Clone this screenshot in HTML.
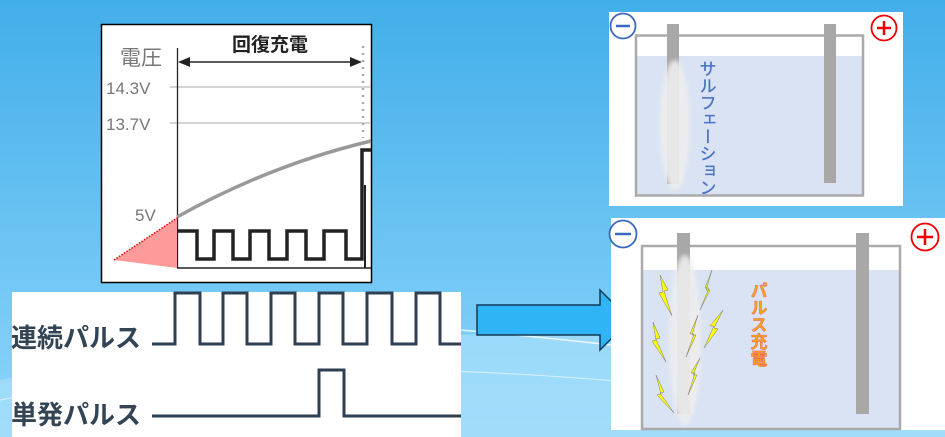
<!DOCTYPE html>
<html><head><meta charset="utf-8"><style>
html,body{margin:0;padding:0;width:945px;height:437px;overflow:hidden}
svg{display:block}
text{font-family:"Liberation Sans","Noto Sans CJK JP",sans-serif}
</style></head><body>
<svg width="945" height="437" viewBox="0 0 945 437" xmlns="http://www.w3.org/2000/svg">
<defs>
<linearGradient id="bg" x1="0" y1="0" x2="0" y2="1">
<stop offset="0" stop-color="#42aee9"/><stop offset="1" stop-color="#8ed6fb"/></linearGradient>
<filter id="blur"><feGaussianBlur stdDeviation="2"/></filter>
</defs>
<rect width="945" height="437" fill="url(#bg)"/>
<path d="M0 380 Q400 300 945 360 L945 437 L0 437Z" fill="#a8e0fb" opacity="0.7"/>
<path d="M460 330 Q700 350 945 395" stroke="#fff" stroke-width="1.5" fill="none" opacity="0.8"/>
<path d="M0 400 Q350 330 945 420" stroke="#fff" stroke-width="1" fill="none" opacity="0.6"/>

<!-- chart -->
<rect x="101.5" y="24.5" width="270" height="258" fill="#fff" stroke="#000" stroke-width="1.5"/>
<text x="270" y="51" font-size="19" font-weight="bold" text-anchor="middle" fill="#222">回復充電</text>
<text x="120" y="65" font-size="21" fill="#777">電圧</text>
<text x="106" y="94" font-size="17" fill="#777">14.3V</text>
<text x="106" y="130" font-size="17" fill="#777">13.7V</text>
<text x="135" y="221" font-size="17" fill="#777">5V</text>
<line x1="170" y1="87" x2="371" y2="87" stroke="#bbb" stroke-width="1.2"/>
<line x1="170" y1="123" x2="371" y2="123" stroke="#bbb" stroke-width="1.2"/>
<line x1="177.5" y1="48" x2="177.5" y2="268" stroke="#222" stroke-width="1.3"/>
<line x1="184" y1="62" x2="356" y2="62" stroke="#222" stroke-width="1.5"/>
<path d="M178 62 L190 57 L190 67Z M362 62 L350 57 L350 67Z" fill="#222"/>
<line x1="363" y1="46" x2="363" y2="138" stroke="#aaa" stroke-width="2.5" stroke-dasharray="2,5"/>
<path d="M177 217 Q270 165 371 141" stroke="#999" stroke-width="3.5" fill="none"/>
<polygon points="114,260 177,218 177,268" fill="#ff9a9a"/>
<line x1="114" y1="260" x2="177" y2="218" stroke="#e00" stroke-width="1.5" stroke-dasharray="1.5,1.5"/>
<path d="M177 231 H197 V259 H214 V231 H233 V259 H250 V231 H269 V259 H287 V231 H306 V259 H324 V231 H346 V259 H362 V150 H371" stroke="#222" stroke-width="3.5" fill="none"/>
<line x1="365" y1="185" x2="365" y2="268" stroke="#222" stroke-width="2"/>
<line x1="177" y1="268" x2="371" y2="268" stroke="#222" stroke-width="1.5"/>

<!-- pulse panel -->
<rect x="12" y="292" width="449" height="145" fill="#fff"/>
<text x="11" y="347" font-size="26" font-weight="bold" fill="#334455">連続パルス</text>
<text x="11" y="424" font-size="26" font-weight="bold" fill="#334455">単発パルス</text>
<path d="M152 344 H175 V293 H200 V344 H223 V293 H247 V344 H271 V293 H295 V344 H319 V293 H343 V344 H367 V293 H392 V344 H416 V293 H440 V344 H461" stroke="#2f3f52" stroke-width="3" fill="none"/>
<path d="M152 416 H319 V370 H344 V416 H461" stroke="#2f3f52" stroke-width="3" fill="none"/>

<!-- arrow -->
<polygon points="477,305 600,305 600,290 630,320 600,350 600,335 477,335" fill="#2fb4f5" stroke="#123a55" stroke-width="1.5"/>

<!-- top right -->
<rect x="609" y="12" width="294" height="194" fill="#fff"/>
<rect x="636" y="56" width="227" height="140" fill="#dae3f3"/>
<rect x="636" y="35.5" width="227" height="160" fill="none" stroke="#aaa" stroke-width="2.5"/>
<rect x="667" y="24" width="12" height="160" fill="#aaa7a7"/>
<rect x="824" y="24" width="12" height="159" fill="#aaa7a7"/>
<ellipse cx="675" cy="125" rx="15" ry="65" fill="#eee" filter="url(#blur)" opacity="0.9"/>
<circle cx="623" cy="26" r="12.5" fill="#fff" stroke="#3a68c0" stroke-width="1.8"/>
<line x1="616" y1="26" x2="630" y2="26" stroke="#3a68c0" stroke-width="2.5"/>
<circle cx="884" cy="28" r="12.5" fill="#fff" stroke="#e00" stroke-width="1.8"/>
<path d="M877 28 H891 M884 21 V35" stroke="#e00" stroke-width="2.5"/>
<text font-size="17" fill="#4a72c0" stroke="#4a72c0" stroke-width="0.3" x="706" y="60" style="writing-mode:vertical-rl">サルフェーション</text>

<!-- bottom right -->
<rect x="611" y="218" width="334" height="212" fill="#fff"/>
<rect x="642" y="270" width="258" height="159" fill="#dae3f3"/>
<rect x="642" y="246" width="258" height="183" fill="none" stroke="#aaa" stroke-width="2.5"/>
<rect x="677" y="233" width="13" height="181" fill="#aaa7a7"/>
<rect x="856" y="233" width="13" height="181" fill="#aaa7a7"/>
<ellipse cx="685" cy="340" rx="16" ry="85" fill="#eee" filter="url(#blur)" opacity="0.9"/>
<circle cx="623" cy="234" r="13.5" fill="#fff" stroke="#3a68c0" stroke-width="1.8"/>
<line x1="615" y1="234" x2="631" y2="234" stroke="#3a68c0" stroke-width="2.5"/>
<circle cx="925" cy="237" r="13.5" fill="#fff" stroke="#e00" stroke-width="1.8"/>
<path d="M917 237 H933 M925 229 V245" stroke="#e00" stroke-width="2.5"/>
<g fill="#ffff00" stroke="#777" stroke-width="0.5">
<polygon points="660,275 668,290 664,291 672,316 659,293 663,292"/>
<polygon points="712,270 706,290 710,290 700,310 709,288 705,288"/>
<polygon points="653,322 660,338 656,339 666,362 652,341 656,340"/>
<polygon points="698,315 692,335 696,335 686,357 694,334 690,334"/>
<polygon points="723,310 714,328 718,329 704,348 714,326 710,326"/>
<polygon points="700,358 693,375 697,375 688,395 695,373 691,373"/>
<polygon points="656,375 664,392 660,393 674,413 657,395 661,394"/>
</g>
<text font-size="17" font-weight="bold" fill="#f7a51c" stroke="#e55" stroke-width="0.4" x="757" y="282" style="writing-mode:vertical-rl">パルス充電</text>
</svg>
</body></html>
